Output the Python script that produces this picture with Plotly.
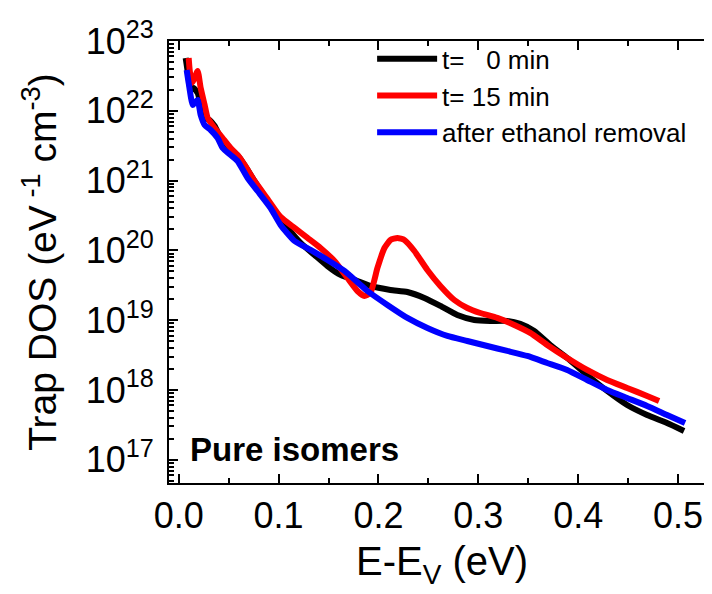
import numpy as np
import plotly.graph_objects as go

# Energy (eV) and log10 of trap DOS (eV^-1 cm^-3)
x_t0 = [0.007, 0.010, 0.012, 0.015, 0.019, 0.023, 0.027, 0.031, 0.036, 0.041, 0.047, 0.054,
        0.061, 0.069, 0.079, 0.089, 0.099, 0.109, 0.122, 0.136, 0.149, 0.162, 0.179, 0.192,
        0.212, 0.229, 0.246, 0.262, 0.279, 0.296, 0.312, 0.329, 0.342, 0.356, 0.372,
        0.389, 0.409, 0.429, 0.449, 0.469, 0.489, 0.506]
logdos_t0 = [22.756, 22.470, 22.298, 22.327, 22.255, 22.040, 21.897, 21.868, 21.782, 21.639,
             21.496, 21.424, 21.324, 21.152, 20.923, 20.708, 20.507, 20.321, 20.106, 19.934,
             19.776, 19.648, 19.562, 19.490, 19.433, 19.404, 19.318, 19.204, 19.074,
             19.003, 18.989, 18.989, 18.946, 18.845, 18.645, 18.458, 18.215, 17.986, 17.785,
             17.642, 17.527, 17.413]

x_t15 = [0.010, 0.011, 0.013, 0.015, 0.019, 0.022, 0.026, 0.029, 0.036, 0.044, 0.052, 0.059,
         0.066, 0.076, 0.089, 0.102, 0.116, 0.129, 0.142, 0.156, 0.169, 0.179, 0.186, 0.192,
         0.199, 0.206, 0.212, 0.219, 0.226, 0.236, 0.249, 0.262, 0.276, 0.289, 0.302, 0.319,
         0.336, 0.352, 0.369, 0.389, 0.409, 0.429, 0.449, 0.469, 0.481]
logdos_t15 = [22.756, 22.585, 22.398, 22.440, 22.570, 22.327, 22.083, 21.897, 21.754, 21.610,
              21.467, 21.367, 21.223, 20.994, 20.736, 20.479, 20.321, 20.178, 20.034, 19.848,
              19.605, 19.418, 19.347, 19.390, 19.748, 20.034, 20.149, 20.178, 20.149, 19.991,
              19.719, 19.490, 19.289, 19.175, 19.103, 19.032, 18.931, 18.817, 18.645, 18.458,
              18.287, 18.143, 18.029, 17.914, 17.842]

x_after = [0.008, 0.010, 0.014, 0.016, 0.019, 0.022, 0.026, 0.032, 0.039, 0.044, 0.052, 0.059,
           0.069, 0.079, 0.092, 0.102, 0.116, 0.132, 0.149, 0.166, 0.189, 0.209, 0.229,
           0.249, 0.269, 0.289, 0.309, 0.329, 0.349, 0.369, 0.389, 0.409, 0.429, 0.449, 0.469,
           0.489, 0.507]
logdos_after = [22.585, 22.398, 22.083, 22.112, 22.155, 21.940, 21.797, 21.725, 21.610, 21.467,
                21.367, 21.281, 21.037, 20.851, 20.607, 20.364, 20.135, 20.006, 19.862, 19.705,
                19.418, 19.218, 19.032, 18.888, 18.774, 18.702, 18.630, 18.559, 18.487,
                18.387, 18.287, 18.143, 18.000, 17.885, 17.771, 17.642, 17.527]

series_names = ["t=\u00a0\u00a0\u00a00 min", "t= 15 min", "after ethanol removal"]
series_colors = ["#000000", "#ff0000", "#0000ff"]

x_tickvals = [0.0, 0.1, 0.2, 0.3, 0.4, 0.5]
x_ticktext = ["0.0", "0.1", "0.2", "0.3", "0.4", "0.5"]
y_decades = [17, 18, 19, 20, 21, 22, 23]

FONT = "Liberation Sans, Arial, sans-serif"

fig = go.Figure()
for xs, ls, name, col in zip([x_t0, x_t15, x_after],
                             [logdos_t0, logdos_t15, logdos_after],
                             series_names, series_colors):
    fig.add_trace(go.Scatter(x=xs, y=10.0 ** np.array(ls), mode="lines", name=name,
                             line=dict(color=col, width=6, shape="spline", smoothing=0.5)))

y_tickvals = [10.0 ** d for d in y_decades]
y_ticktext = ["10<sup>%d</sup>" % d for d in y_decades]
y_minor = [m * 10.0 ** d for d in range(16, 23) for m in range(2, 10)]

fig.update_layout(
    width=712, height=594,
    margin=dict(l=161, r=5, t=33, b=119),
    paper_bgcolor="white", plot_bgcolor="white",
    font=dict(family=FONT, color="black"),
    showlegend=True,
    legend=dict(x=0.372, y=1.013, xanchor="left", yanchor="top",
                bgcolor="rgba(0,0,0,0)", font=dict(size=26, family=FONT),
                itemwidth=60, tracegroupgap=0),
    xaxis=dict(range=[-0.0097, 0.537], showgrid=False, zeroline=False, automargin=False,
               showline=True, linecolor="black", linewidth=2, mirror="ticks",
               ticks="inside", ticklen=9, tickwidth=2, tickcolor="black",
               tickvals=x_tickvals, ticktext=x_ticktext,
               tickfont=dict(size=36, family=FONT),
               minor=dict(dtick=0.05, tick0=0, ticks="inside", ticklen=5, tickwidth=2,
                          tickcolor="black", showgrid=False),
               title=dict(text="E-E<sub>V</sub> (eV)", font=dict(size=40, family=FONT),
                          standoff=12)),
    yaxis=dict(type="log", range=[16.667, 23], showgrid=False, zeroline=False, automargin=False,
               showline=True, linecolor="black", linewidth=2, mirror="ticks",
               ticks="inside", ticklen=9, tickwidth=2, tickcolor="black",
               tickvals=y_tickvals, ticktext=y_ticktext, ticklabelstandoff=6,
               tickfont=dict(size=36, family=FONT),
               minor=dict(tickvals=y_minor, ticks="inside", ticklen=5, tickwidth=2,
                          tickcolor="black", showgrid=False),
               title=dict(text="Trap DOS (eV<sup> -1</sup> cm<sup>-3</sup>)",
                          font=dict(size=39, family=FONT), standoff=17)),
)

fig.add_annotation(x=0.035, y=0.03, xref="paper", yref="paper", xanchor="left",
                   yanchor="bottom", text="<b>Pure isomers</b>", showarrow=False,
                   font=dict(size=33, family=FONT, color="black"))

fig.write_html("out.html")
